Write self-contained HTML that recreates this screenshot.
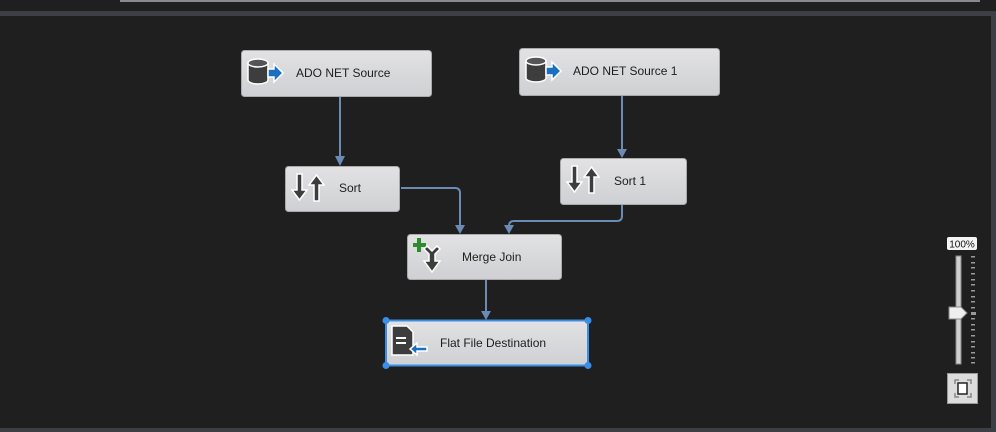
<!DOCTYPE html>
<html><head><meta charset="utf-8"><style>
html,body{margin:0;padding:0;background:#1f1f1f;width:996px;height:432px;overflow:hidden}
svg{display:block}
text{font-family:"Liberation Sans",sans-serif;font-size:12px;fill:#1e1e1e}
</style></head><body>
<svg width="996" height="432" xmlns="http://www.w3.org/2000/svg">
<defs>
<linearGradient id="g" x1="0" y1="0" x2="0" y2="1"><stop offset="0" stop-color="#e2e2e4"/><stop offset="1" stop-color="#cfd0d3"/></linearGradient>
</defs>
<rect x="0" y="0" width="996" height="432" fill="#1f1f1f"/>
<rect x="120" y="0" width="860" height="2" fill="#8a8a8a"/>
<rect x="0" y="11" width="996" height="5" fill="#3c3f44"/>
<rect x="991" y="11" width="5" height="421" fill="#3c3f44"/>
<rect x="0" y="428" width="996" height="4" fill="#3c3f44"/>

<g stroke="#6a8bb5" stroke-width="2" fill="none">
<path d="M340 96 V158"/>
<path d="M622 95 V150"/>
<path d="M401 188 H455 Q460 188 460 193 V226"/>
<path d="M622 204 V216 Q622 221 617 221 H514 Q509 221 509 226 V226"/>
<path d="M486 279 V312"/>
</g>
<g fill="#6a8bb5">
<path d="M335 156 H345 L340 166 Z"/>
<path d="M617 149 H627 L622 158 Z"/>
<path d="M455 225 H465 L460 234 Z"/>
<path d="M504 225 H514 L509 234 Z"/>
<path d="M481 311 H491 L486 320 Z"/>
</g>

<g stroke="#aaa" stroke-width="1">
<rect x="241.5" y="50.5" width="190" height="46" rx="3" fill="url(#g)"/>
<rect x="519.5" y="48.5" width="200" height="47" rx="3" fill="url(#g)"/>
<rect x="285.5" y="166.5" width="114" height="45" rx="3" fill="url(#g)"/>
<rect x="560.5" y="158.5" width="126" height="46" rx="3" fill="url(#g)"/>
<rect x="407.5" y="234.5" width="154" height="45" rx="3" fill="url(#g)"/>
</g>
<rect x="386" y="320.5" width="202" height="45" fill="url(#g)" stroke="#3a8ee6" stroke-width="2"/>
<g fill="#3a8ee6"><circle cx="386" cy="320.5" r="3.5"/><circle cx="588" cy="320.5" r="3.5"/><circle cx="386" cy="365.5" r="3.5"/><circle cx="588" cy="365.5" r="3.5"/></g>

<!-- DB icons -->
<g id="db">
<path d="M248 63 v17 a10 4 0 0 0 20 0 v-17 Z" fill="#3d3d3d" stroke="#fff" stroke-width="1.5"/>
<ellipse cx="258" cy="63" rx="10" ry="4" fill="#555" stroke="#fff" stroke-width="1.5"/>
<path d="M268 69 h6 v-5 l9 9 l-9 9 v-5 h-6 Z" fill="#1a6fc0" stroke="#fff" stroke-width="1.5"/>
</g>
<use href="#db" x="278" y="-2"/>
<text x="296" y="77">ADO NET Source</text>
<text x="573" y="75">ADO NET Source 1</text>

<!-- sort icons -->
<g id="srt" fill="#3d3d3d" stroke="#fff" stroke-width="1.5">
<path d="M297 174 h5 v16 h5 l-7.5 10 l-7.5 -10 h5 Z"/>
<path d="M314 201 h5 v-16 h5 l-7.5 -10 l-7.5 10 h5 Z"/>
</g>
<use href="#srt" x="275" y="-8"/>
<text x="339" y="192">Sort</text>
<text x="614" y="185">Sort 1</text>

<!-- merge icon -->
<path d="M413 243 h4 v-5 h4 v5 h5 v4 h-5 v5 h-4 v-5 h-4 Z" fill="#2e8b2e"/>
<path d="M424 249 l3 -3 l5 5 l5 -5 l3 3 l-5 5 v7 h5 l-8 11 l-8 -11 h5 v-7 Z" fill="#3d3d3d" stroke="#fff" stroke-width="1.5"/>
<text x="462" y="261">Merge Join</text>

<!-- flat file icon -->
<path d="M392 326 h15 l6 6 v23 h-21 Z" fill="#3d3d3d" stroke="#fff" stroke-width="1.5"/>
<rect x="396" y="337" width="10" height="2" fill="#fff"/><rect x="396" y="342" width="10" height="2" fill="#fff"/>
<path d="M417 347 h10 v4 h-10 v4 l-7 -6 l7 -6 Z" fill="#1a6fc0" stroke="#fff" stroke-width="1.5"/>
<text x="440" y="347">Flat File Destination</text>

<!-- zoom slider -->
<rect x="947" y="237" width="30" height="13" rx="2" fill="#f4f4f4"/>
<text x="962" y="247.5" text-anchor="middle" style="font-size:10px;fill:#111">100%</text>
<rect x="956" y="256" width="5" height="108" fill="#cfcfcf" stroke="#888"/>
<g fill="#9a9a9a">
<rect x="971" y="256" width="4" height="1.5"/><rect x="971" y="262" width="4" height="1.5"/><rect x="971" y="267" width="4" height="1.5"/><rect x="971" y="273" width="4" height="1.5"/><rect x="971" y="279" width="4" height="1.5"/><rect x="971" y="284" width="4" height="1.5"/><rect x="971" y="290" width="4" height="1.5"/><rect x="971" y="296" width="4" height="1.5"/><rect x="971" y="301" width="4" height="1.5"/><rect x="971" y="307" width="4" height="1.5"/><rect x="971" y="312" width="5" height="3"/><rect x="971" y="318" width="4" height="1.5"/><rect x="971" y="324" width="4" height="1.5"/><rect x="971" y="329" width="4" height="1.5"/><rect x="971" y="335" width="4" height="1.5"/><rect x="971" y="341" width="4" height="1.5"/><rect x="971" y="346" width="4" height="1.5"/><rect x="971" y="352" width="4" height="1.5"/><rect x="971" y="357" width="4" height="1.5"/><rect x="971" y="362" width="4" height="1.5"/>
</g>
<path d="M949 307 h12 l6 6 l-6 6 h-12 Z" fill="#eee" stroke="#888"/>
<rect x="947.5" y="373.5" width="30" height="30" fill="#dcdcdc" stroke="#999"/>
<path d="M955 384 v-4 h4 M967 380 h4 v4 M971 393 v4 h-4 M959 397 h-4 v-4" stroke="#888" stroke-width="1.5" fill="none"/>
<rect x="958" y="383" width="9" height="11" fill="#fff" stroke="#222" stroke-width="1.5"/>
</svg>
</body></html>
